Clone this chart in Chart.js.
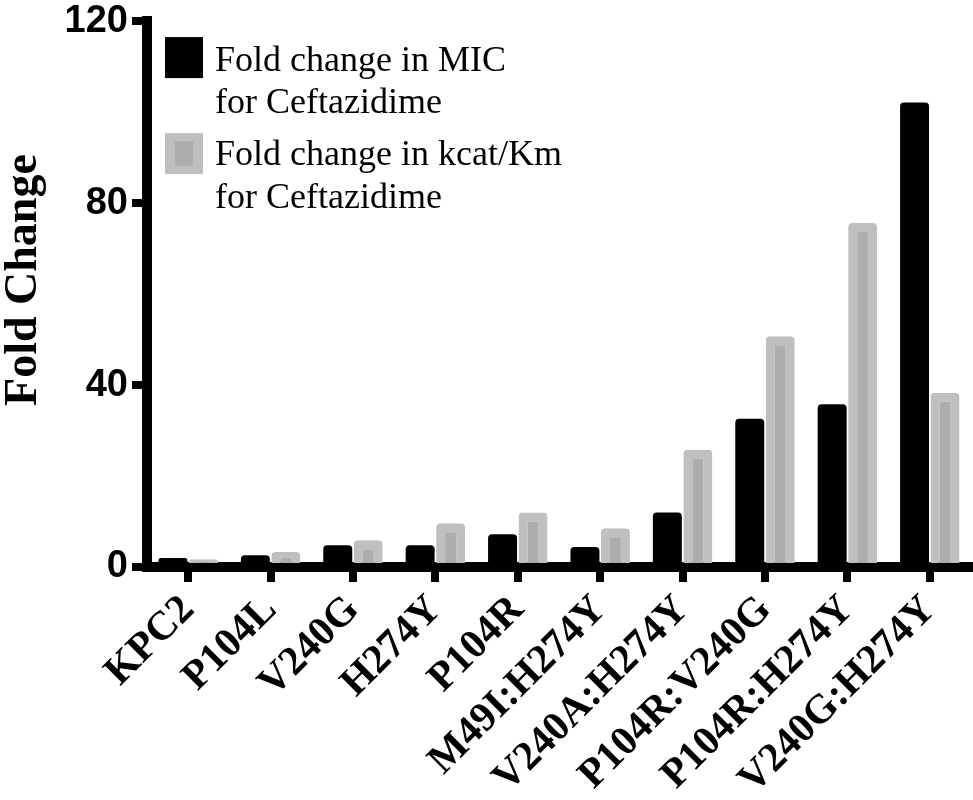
<!DOCTYPE html>
<html>
<head>
<meta charset="utf-8">
<script src="https://cdn.jsdelivr.net/npm/chart.js@4/dist/chart.umd.min.js"></script>
<style>
  html, body { margin: 0; padding: 0; background: #fff; }
  #wrap { width: 973px; height: 800px; }
</style>
</head>
<body>
<div id="wrap"><canvas id="myChart"></canvas></div>
<script>
const mutantes = ["KPC2", "P104L", "V240G", "H274Y", "P104R", "M49I:H274Y", "V240A:H274Y", "P104R:V240G", "P104R:H274Y", "V240G:H274Y"];
const foldMIC = [2.0, 2.6, 4.8, 4.8, 7.2, 4.4, 12.0, 32.6, 35.8, 102.1];
const foldKcatKm = [1.7, 3.3, 5.9, 9.6, 12.0, 8.5, 25.8, 50.7, 75.6, 38.3];
const ticksY = [0, 40, 80, 120];
const tituloY = "Fold Change";
const leyenda = [
    ["Fold change in MIC", "for Ceftazidime"],
    ["Fold change in kcat/Km", "for Ceftazidime"]
];

const grisBorde = "#bfbfbf";
const grisRelleno = "#adadad";

// leyenda y titulo del eje Y dibujados a mano
const textosPlugin = {
    id: "textosExtra",
    afterDraw(chart) {
        const ctx = chart.ctx;
        const area = chart.chartArea;
        const x = area.left + 18;
        const ancho = 38;
        const alto = 41;
        const xTexto = x + ancho + 12;
        ctx.save();
        ctx.font = "36px 'Liberation Serif'";
        ctx.textBaseline = "alphabetic";
        ctx.textAlign = "left";

        // serie 1
        let y = area.top + 16;
        ctx.fillStyle = "#000";
        ctx.fillRect(x, y, ancho, alto);
        ctx.fillText(leyenda[0][0], xTexto, y + 34);
        ctx.fillText(leyenda[0][1], xTexto, y + 76);

        // serie 2
        y = area.top + 112;
        ctx.fillStyle = grisBorde;
        ctx.fillRect(x, y, ancho, alto);
        ctx.fillStyle = grisRelleno;
        ctx.fillRect(x + 10, y + 8, ancho - 20, alto - 16);
        ctx.fillStyle = "#000";
        ctx.fillText(leyenda[1][0], xTexto, y + 32);
        ctx.fillText(leyenda[1][1], xTexto, y + 75);

        // titulo eje Y
        ctx.font = "bold 46px 'Liberation Serif'";
        ctx.textAlign = "center";
        ctx.translate(36, (area.top + area.bottom) / 2 - 14);
        ctx.rotate(-Math.PI / 2);
        ctx.fillText(tituloY, 0, 0);
        ctx.restore();
    }
};

const chartDOM = document.querySelector("#myChart");
const config = {
    type: "bar",
    data: {
        labels: mutantes,
        datasets: [
            {
                label: leyenda[0].join(" "),
                data: foldMIC,
                backgroundColor: "#000",
                borderColor: "#000",
                borderWidth: 0,
                borderRadius: 4,
                borderSkipped: "start"
            },
            {
                label: leyenda[1].join(" "),
                data: foldKcatKm,
                backgroundColor: grisRelleno,
                borderColor: grisBorde,
                borderWidth: 9,
                borderRadius: 4,
                borderSkipped: "start"
            }
        ]
    },
    options: {
        responsive: true,
        maintainAspectRatio: false,
        animation: false,
        devicePixelRatio: 1,
        layout: { padding: { top: 18, right: 2, left: 0, bottom: 0 } },
        datasets: {
            bar: { categoryPercentage: 0.74, barPercentage: 0.95 }
        },
        plugins: {
            legend: { display: false },
            tooltip: { enabled: false }
        },
        scales: {
            x: {
                grid: {
                    offset: false,
                    drawOnChartArea: false,
                    color: "#000",
                    lineWidth: 8,
                    tickLength: 15
                },
                border: { display: true, color: "#000", width: 10 },
                ticks: {
                    color: "#000",
                    font: { family: "'Liberation Serif'", size: 41, weight: "bold" },
                    minRotation: 45,
                    maxRotation: 45,
                    padding: 4,
                    autoSkip: false
                },
                afterFit(scale) {
                    scale.height = 233;
                }
            },
            y: {
                min: 0,
                max: 120,
                afterBuildTicks(scale) {
                    scale.ticks = ticksY.map((v) => ({ value: v }));
                },
                grid: {
                    drawOnChartArea: false,
                    color: "#000",
                    lineWidth: 8,
                    tickLength: 15
                },
                border: { display: true, color: "#000", width: 10 },
                ticks: {
                    color: "#000",
                    font: { family: "'Liberation Sans'", size: 38, weight: "bold", lineHeight: 0.9 },
                    padding: 4
                },
                afterFit(scale) {
                    scale.width = 147;
                }
            }
        }
    },
    plugins: [textosPlugin]
};

const myChart = new Chart(chartDOM, config);
</script>
</body>
</html>
